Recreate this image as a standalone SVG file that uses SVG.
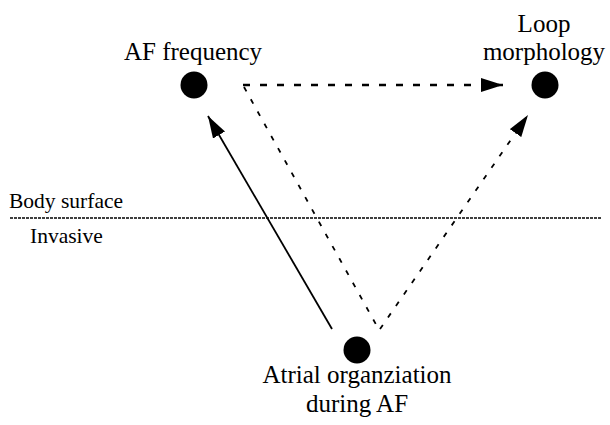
<svg xmlns="http://www.w3.org/2000/svg" width="610" height="425" viewBox="0 0 610 425">
<style>
  text { font-family: 'Liberation Serif', 'Tinos', 'Times New Roman', Times, 'DejaVu Serif', serif; fill: #000; }
  .lbl { font-size: 25px; text-anchor: middle; }
  .side { font-size: 21.5px; }
  .dot { fill: #000; }
  .solid { stroke: #000; stroke-width: 1.8; fill: none; }
  .dashH { stroke: #000; stroke-width: 2.6; stroke-dasharray: 7 10; fill: none; }
  .dashD { stroke: #000; stroke-width: 1.8; stroke-dasharray: 5 9; fill: none; }
  .sep { stroke: #000; stroke-width: 1.5; stroke-dasharray: 3 1; fill: none; }
</style>
<defs>
  <marker id="ah" viewBox="0 0 22 14" refX="22" refY="7" markerWidth="22" markerHeight="14" markerUnits="userSpaceOnUse" orient="auto">
    <path d="M0,0 L22,7 L0,14 Z" fill="#000"/>
  </marker>
</defs>
<rect width="610" height="425" fill="#fff"/>
<g id="separator">
  <line class="sep" x1="10" y1="218" x2="602" y2="218"/>
  <text class="side" x="9" y="208">Body surface</text>
  <text class="side" x="30" y="243">Invasive</text>
</g>
<g id="af-frequency">
  <circle class="dot" cx="194" cy="85" r="13.5"/>
  <text class="lbl" x="193" y="60">AF frequency</text>
</g>
<g id="loop-morphology">
  <circle class="dot" cx="545" cy="85" r="13.5"/>
  <text class="lbl" x="544" y="32">Loop</text>
  <text class="lbl" x="544" y="60">morphology</text>
</g>
<g id="atrial-organization">
  <circle class="dot" cx="357" cy="350" r="13.5"/>
  <text class="lbl" x="357" y="383">Atrial organziation</text>
  <text class="lbl" x="357" y="412">during AF</text>
</g>
<g id="connectors">
  <line class="dashH" x1="243" y1="85" x2="503" y2="85" marker-end="url(#ah)"/>
  <line class="solid" x1="332" y1="329" x2="208" y2="116" marker-end="url(#ah)"/>
  <line class="dashD" x1="244" y1="87" x2="378" y2="328"/>
  <line class="dashD" x1="380" y1="329" x2="528" y2="115" marker-end="url(#ah)"/>
</g>
</svg>
